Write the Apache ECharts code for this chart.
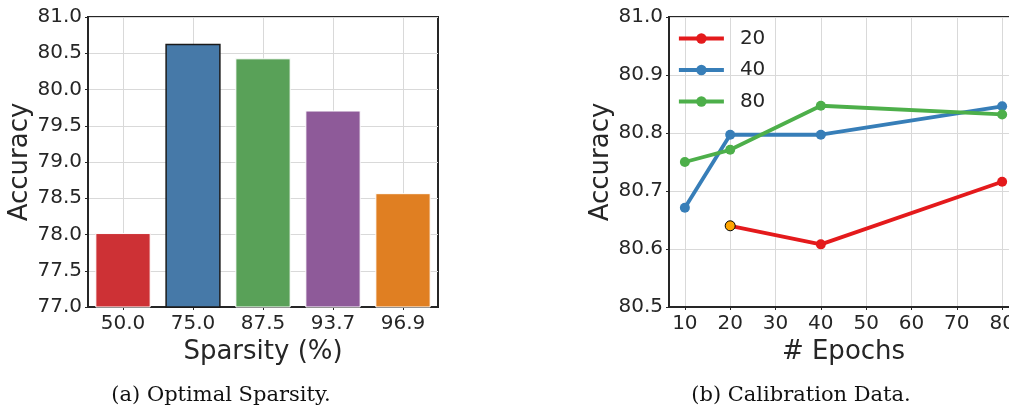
<!DOCTYPE html>
<html>
<head>
<meta charset="utf-8">
<script src="https://cdn.jsdelivr.net/npm/echarts@6/dist/echarts.min.js"></script>
<style>
html,body{margin:0;padding:0;background:#fff;}
#c{width:1009px;height:408px;}
</style>
</head>
<body>
<div id="c"></div>
<script>
// ---- data (a) Optimal Sparsity ----
const sparsityCats = ['50.0', '75.0', '87.5', '93.7', '96.9'];
const sparsityAcc = [78.02, 80.63, 80.43, 79.71, 78.57];
const barColors = ['#cd3135', '#4679a8', '#59a158', '#8e5a99', '#e07f22'];

// ---- data (b) Calibration Data ----
const epochs20 = [20, 40, 80];
const acc20 = [80.640, 80.608, 80.716];
const epochs40 = [10, 20, 40, 80];
const acc40 = [80.671, 80.797, 80.797, 80.846];
const epochs80 = [10, 20, 40, 80];
const acc80 = [80.750, 80.771, 80.847, 80.832];
const seriesNames = ['20', '40', '80'];
const lineColors = ['#e41a1c', '#377eb8', '#4daf4a'];

const txt = '#262626';
const font = 'DejaVu Sans';
const gridColor = '#d9d9d9';

const chart = echarts.init(document.getElementById('c'), null, {renderer: 'canvas'});

function pairs(xs, ys) { return xs.map((x, i) => [x, ys[i]]); }

const d20 = pairs(epochs20, acc20).map((p, i) => i === 0
  ? {value: p, itemStyle: {color: '#ffa500', borderColor: '#000', borderWidth: 1}}
  : {value: p});

const tickLabel = {fontSize: 20, color: txt, fontFamily: font};
const nameStyle = {fontSize: 26, color: txt, fontFamily: font};
const xMin = 6.5, xMax = 83.5;

const lineSeries = (name, data, color) => ({
  name, type: 'line', xAxisIndex: 1, yAxisIndex: 1,
  data, symbol: 'circle', symbolSize: 10,
  lineStyle: {color, width: 3.8},
  itemStyle: {color, borderWidth: 0}
});

const option = {
  backgroundColor: '#fff',
  animation: false,
  textStyle: {fontFamily: font, color: txt},
  grid: [
    {left: 88, top: 17, width: 350, height: 290, show: true, borderColor: txt, borderWidth: 2,
      outerBoundsMode: 'none', containLabel: false},
    {left: 669, top: 17, width: 349, height: 290, show: true, borderColor: txt, borderWidth: 2,
      outerBoundsMode: 'none', containLabel: false}
  ],
  xAxis: [
    {
      gridIndex: 0, type: 'category', data: sparsityCats, boundaryGap: true,
      name: 'Sparsity (%)', nameLocation: 'middle', nameGap: 25, nameTextStyle: nameStyle,
      axisLine: {show: true, lineStyle: {color: txt, width: 2}},
      axisTick: {show: true, alignWithLabel: true, length: 3, lineStyle: {color: txt, width: 1}},
      axisLabel: Object.assign({margin: 7}, tickLabel),
      splitLine: {show: true, alignWithLabel: true, lineStyle: {color: gridColor, width: 1}}
    },
    {
      gridIndex: 1, type: 'value', min: xMin, max: xMax, splitNumber: 8, minInterval: 10, maxInterval: 10,
      name: '# Epochs', nameLocation: 'middle', nameGap: 25, nameTextStyle: nameStyle,
      axisLine: {show: true, onZero: false, lineStyle: {color: txt, width: 2}},
      axisTick: {show: true, length: 3, lineStyle: {color: txt, width: 1}},
      axisLabel: Object.assign({margin: 7, showMinLabel: false, showMaxLabel: false, hideOverlap: false,
        formatter: v => (Math.abs(v % 10) < 1e-6 ? String(v) : '')}, tickLabel),
      splitLine: {show: true, lineStyle: {color: gridColor, width: 1}}
    }
  ],
  yAxis: [
    {
      gridIndex: 0, type: 'value', min: 77, max: 81, interval: 0.5,
      name: 'Accuracy', nameLocation: 'middle', nameGap: 51, nameTextStyle: nameStyle,
      axisLine: {show: true, lineStyle: {color: txt, width: 2}},
      axisTick: {show: true, length: 3, lineStyle: {color: txt, width: 1}},
      axisLabel: Object.assign({margin: 6, formatter: v => v.toFixed(1)}, tickLabel),
      splitLine: {show: true, lineStyle: {color: gridColor, width: 1}}
    },
    {
      gridIndex: 1, type: 'value', min: 80.5, max: 81, interval: 0.1,
      name: 'Accuracy', nameLocation: 'middle', nameGap: 51, nameTextStyle: nameStyle,
      axisLine: {show: true, onZero: false, lineStyle: {color: txt, width: 2}},
      axisTick: {show: true, length: 3, lineStyle: {color: txt, width: 1}},
      axisLabel: Object.assign({margin: 6, formatter: v => v.toFixed(1)}, tickLabel),
      splitLine: {show: true, lineStyle: {color: gridColor, width: 1}}
    }
  ],
  legend: {
    data: seriesNames,
    orient: 'vertical', left: 672, top: 22.5,
    itemWidth: 45, itemHeight: 13, itemGap: 9.5,
    lineStyle: {width: 3.8},
    textStyle: {fontSize: 20, color: txt, fontFamily: font, lineHeight: 22, padding: [0, 0, 0, 11]},
    backgroundColor: 'transparent'
  },
  series: [
    {
      type: 'bar', xAxisIndex: 0, yAxisIndex: 0, barWidth: '79%',
      data: sparsityAcc.map((v, i) => ({
        value: v,
        itemStyle: {color: barColors[i], borderColor: i === 1 ? '#1a1a1a' : '#ffffff', borderWidth: i === 1 ? 1.5 : 1}
      })),
      z: 2
    },
    lineSeries(seriesNames[0], d20, lineColors[0]),
    lineSeries(seriesNames[1], pairs(epochs40, acc40), lineColors[1]),
    lineSeries(seriesNames[2], pairs(epochs80, acc80), lineColors[2])
  ],
  graphic: [
    {type: 'text', x: 221, y: 396, silent: true,
      style: {text: '(a) Optimal Sparsity.', fontFamily: 'DejaVu Serif', fontSize: 21, fill: '#111', textAlign: 'center', textVerticalAlign: 'middle'}},
    {type: 'text', x: 801, y: 396, silent: true,
      style: {text: '(b) Calibration Data.', fontFamily: 'DejaVu Serif', fontSize: 21, fill: '#111', textAlign: 'center', textVerticalAlign: 'middle'}}
  ]
};

chart.setOption(option);
</script>
</body>
</html>
